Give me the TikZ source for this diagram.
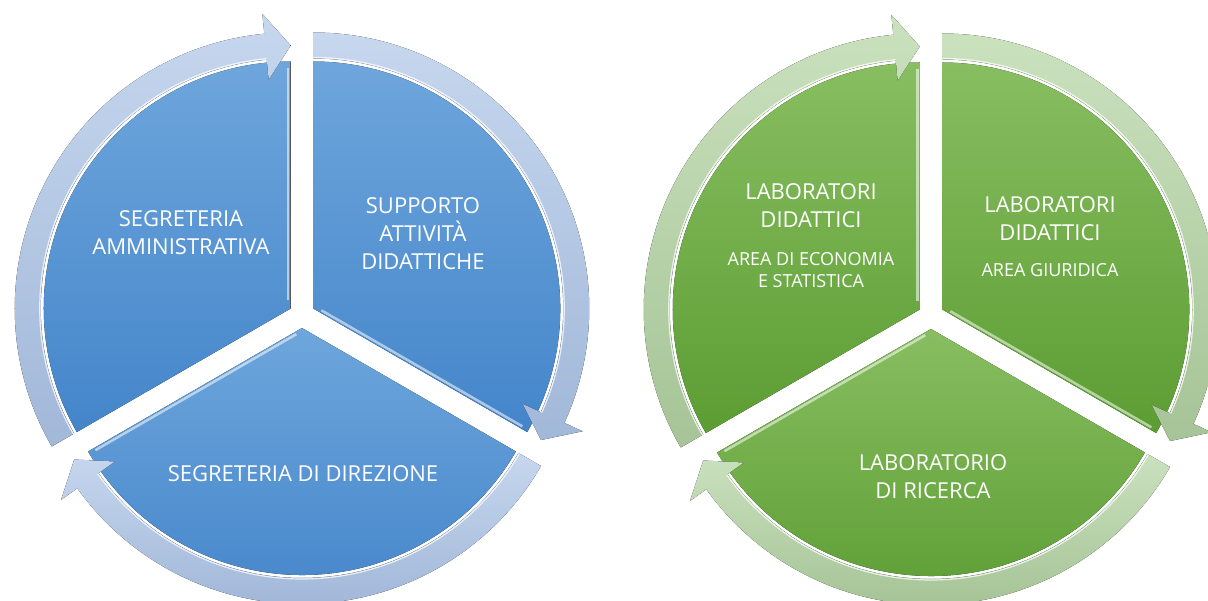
\documentclass[tikz,border=0pt]{standalone}
\usepackage{fontspec}
\setmainfont{Open Sans}
\begin{document}
\begin{tikzpicture}[x=1pt,y=1pt,
  label/.style={text=white, align=center, inner sep=0pt,
    font=\fontsize{22}{28}\selectfont},
  sublabel/.style={text=white, align=center, inner sep=0pt,
    font=\fontsize{18}{22}\selectfont},
  edgeglow/.style={white, opacity=0.55, line width=2.5pt},
  ringglow/.style={white, opacity=0.75, line width=1.2pt},
  bluepie/.style={
    pieseg/.style={top color=pieBlueTop, bottom color=pieBlueBot},
    piering/.style={top color=ringBlueTop, bottom color=ringBlueBot}},
  greenpie/.style={
    pieseg/.style={top color=pieGreenTop, bottom color=pieGreenBot},
    piering/.style={top color=ringGreenTop, bottom color=ringGreenBot}},
  % three exploded 120-degree wedges, each with a clockwise arrow band
  segcycle/.pic={
    \foreach \a/\b in {90/210,-30/90,210/330}{
      \begin{scope}[shift={({(\a+\b)/2}:13)}]
        \fill[pieseg] (0,0) -- (\a:247)
          arc[start angle=\a, end angle=\b, radius=247] -- cycle;
        \begin{scope}[rotate=\a]
          \draw[edgeglow] (8,2.5) -- (240,2.5);
        \end{scope}
        \fill[piering] (\b:250) -- (\b:276)
          arc[start angle=\b, end angle={\a+5.5}, radius=276]
          -- ({\a+5.5}:296) -- (\a:263) -- ({\a+5.5}:230)
          -- ({\a+5.5}:250)
          arc[start angle={\a+5.5}, end angle=\b, radius=250] -- cycle;
        \draw[ringglow] (\b:251)
          arc[start angle=\b, end angle={\a+5.5}, radius=251];
      \end{scope}
    }
  }
]
\definecolor{pieBlueTop}{HTML}{6EA6DC}
\definecolor{pieBlueBot}{HTML}{4485CA}
\definecolor{ringBlueTop}{HTML}{C6D7EE}
\definecolor{ringBlueBot}{HTML}{A2B8D9}
\definecolor{pieGreenTop}{HTML}{88BE61}
\definecolor{pieGreenBot}{HTML}{5C9D33}
\definecolor{ringGreenTop}{HTML}{CAE1BE}
\definecolor{ringGreenBot}{HTML}{A6C497}

\useasboundingbox (0,0) rectangle (1208,600);
\clip (0,0) rectangle (1208,600);

\pic[bluepie] at (302,285) {segcycle};
\pic[greenpie] at (931,284) {segcycle};

% offices
\node[label] (segamm) at (181,367) {SEGRETERIA\\AMMINISTRATIVA};
\node[label] (supdid) at (423,366) {SUPPORTO\\ATTIVITÀ\\DIDATTICHE};
\node[label] (segdir) at (303,126) {SEGRETERIA DI DIREZIONE};

% laboratories
\node[label] (labeco) at (811,394) {LABORATORI\\DIDATTICI};
\node[sublabel] (areaeco) at (811,330) {AREA DI ECONOMIA\\E STATISTICA};
\node[label] (labgiu) at (1050,381) {LABORATORI\\DIDATTICI};
\node[sublabel] (areagiu) at (1050,330) {AREA GIURIDICA};
\node[label] (labric) at (933,123) {LABORATORIO\\DI RICERCA};
\end{tikzpicture}
\end{document}
